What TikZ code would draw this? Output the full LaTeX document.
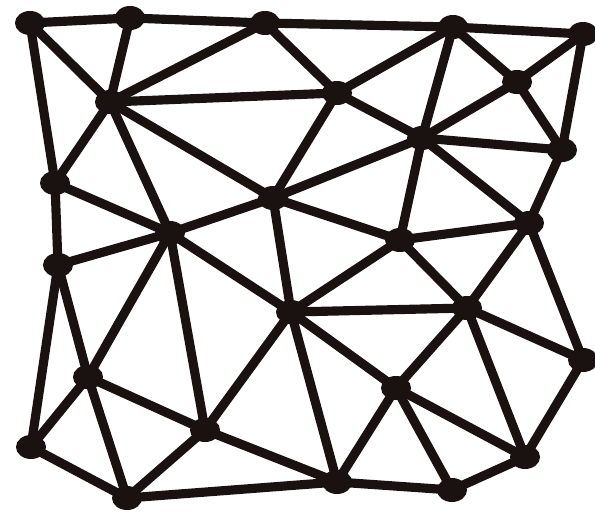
\documentclass[tikz,border=0pt]{standalone}
\usetikzlibrary{shapes.geometric}
\definecolor{ink}{RGB}{26,18,16}
\begin{document}
\begin{tikzpicture}[x=0.01cm,y=-0.01cm,
  vtx/.style={ellipse,fill=ink,inner sep=0pt,minimum width=0.3cm,minimum height=0.24cm},
  edge/.style={draw=ink,line width=2.6pt}]
\useasboundingbox (0,0) rectangle (595,512);
\node[vtx] (A) at (30,23) {};
\node[vtx] (B) at (130,18) {};
\node[vtx] (C) at (265,23) {};
\node[vtx] (D) at (453,27) {};
\node[vtx] (E) at (583,34) {};
\node[vtx] (F) at (110,102) {};
\node[vtx] (G) at (337,93) {};
\node[vtx] (H) at (517,82) {};
\node[vtx] (I) at (422,138) {};
\node[vtx] (J) at (562,150) {};
\node[vtx] (K) at (55,183) {};
\node[vtx] (L) at (273,198) {};
\node[vtx] (M) at (170,233) {};
\node[vtx] (N) at (400,240) {};
\node[vtx] (O) at (529,223) {};
\node[vtx] (P) at (58,265) {};
\node[vtx] (Q) at (291,312) {};
\node[vtx] (R) at (467,308) {};
\node[vtx] (S) at (583,360) {};
\node[vtx] (T) at (88,377) {};
\node[vtx] (U) at (396,388) {};
\node[vtx] (V) at (205,430) {};
\node[vtx] (W) at (31,447) {};
\node[vtx] (X) at (127,498) {};
\node[vtx] (Y) at (337,482) {};
\node[vtx] (Z) at (452,490) {};
\node[vtx] (AA) at (525,457) {};
\foreach \a/\b in {A/B,B/C,C/D,D/E,A/F,B/F,A/K,F/C,F/G,F/K,F/M,F/L,C/G,G/D,G/I,G/L,
  D/I,D/H,H/E,E/J,H/J,H/I,I/J,I/L,I/N,I/O,J/O,K/M,K/P,M/L,M/P,M/Q,M/T,M/V,
  L/Q,L/N,N/Q,N/O,N/R,O/R,O/S,Q/R,R/S,R/U,R/AA,Q/U,Q/Y,Q/V,U/Y,U/Z,U/AA,S/AA,
  Y/Z,Z/AA,V/Y,X/Y,V/X,T/X,T/V,W/X,W/T,P/W,P/T}
  \draw[edge] (\a.center) -- (\b.center);
\end{tikzpicture}
\end{document}
